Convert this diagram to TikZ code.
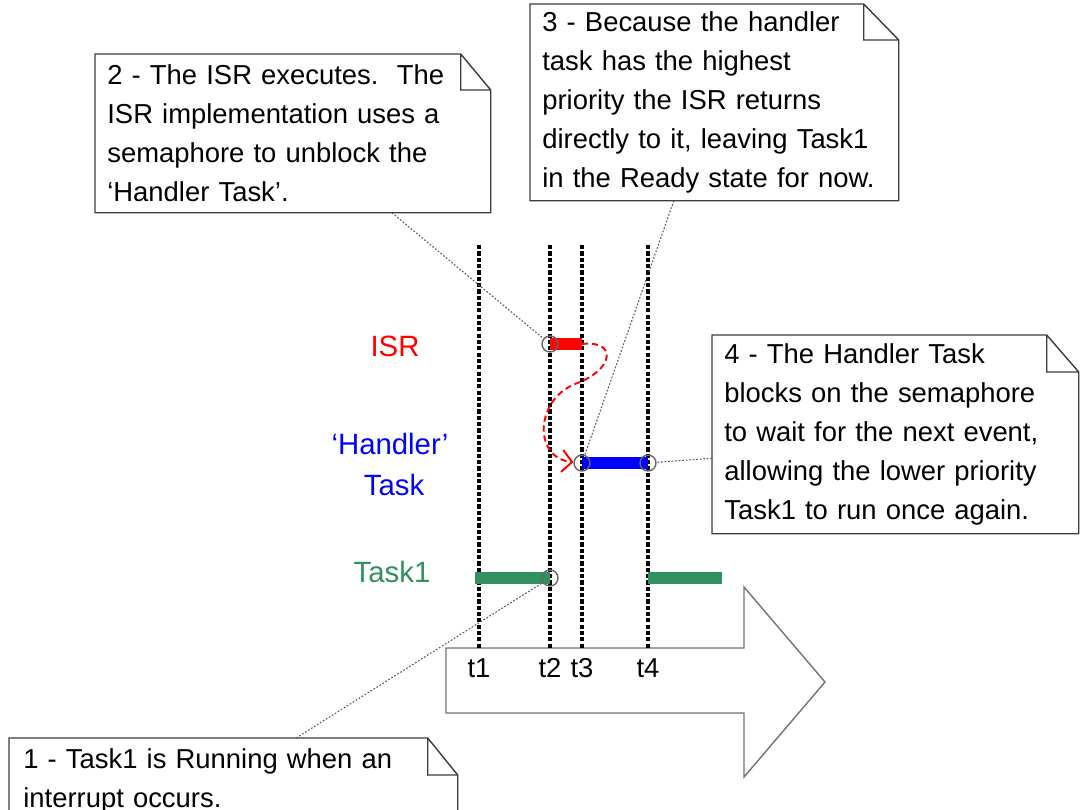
\documentclass[tikz,border=0pt]{standalone}
\usepackage{fontspec}
\setmainfont{Liberation Sans}
\usepackage{tikz}
\usetikzlibrary{arrows.meta,calc}

\definecolor{taskgreen}{RGB}{46,145,95}
\definecolor{notegray}{RGB}{60,60,60}

\tikzset{
  note/.style={anchor=north west, align=left, inner xsep=2.4mm, inner ysep=0pt,
    font=\fontsize{15.6}{22.2}\selectfont},
  notebox/.style={draw=notegray, line width=0.8pt},
  leader/.style={draw=black!65, line width=0.6pt, dash pattern=on 1pt off 1pt},
  timeline/.style={draw=black, line width=2pt, dash pattern=on 2.4pt off 1.2pt},
  axisarrow/.style={draw=black!55, line width=0.8pt, fill=white},
  tlabel/.style={anchor=base, inner sep=0pt, font=\fontsize{15.6}{18}\selectfont},
  rowlabel/.style={anchor=base, inner sep=0pt, font=\fontsize{16.7}{20}\selectfont},
  runbar/.style={line width=7pt, line cap=butt},
  event/.style={circle, draw=black!60, line width=0.8pt, minimum size=3.2mm, inner sep=0pt},
  switch/.style={draw=red, line width=1.1pt, dash pattern=on 3.5pt off 2.2pt,
    -{Straight Barb[length=2mm,width=4.4mm]}}
}

% folded-corner outline round a note node
\newcommand{\dogear}[3]{%
  \draw[notebox] (#1.north west) -- ($(#1.north east)+(-#2,0)$) -- ($(#1.north east)+(0,#3)$)
    -- (#1.south east) -- (#1.south west) -- cycle
    ($(#1.north east)+(-#2,0)$) |- ($(#1.north east)+(0,#3)$);}

\begin{document}
\begin{tikzpicture}[x=0.2mm, y=-0.2mm, >=Stealth]
  \useasboundingbox (0,0) rectangle (1080,809);

  % time axis
  \draw[axisarrow] (446,648) -- (744,648) -- (744,587) -- (825,682) -- (744,777)
    -- (744,713) -- (446,713) -- cycle;

  \foreach \n/\x in {1/479, 2/550, 3/582, 4/648} {
    \draw[timeline] (\x,245) -- (\x,648);
    \node[tlabel] (t\n) at (\x,677) {t\n};
  }

  % rows
  \node[rowlabel, red] (isrlabel) at (395,356) {ISR};
  \node[rowlabel, blue] (hndlabel) at (390,454) {‘Handler’};
  \node[rowlabel, blue] (hndlabelb) at (394,495) {Task};
  \node[rowlabel, taskgreen] (tsklabel) at (392,582) {Task1};

  % running periods
  \draw[runbar, taskgreen] (475,578) -- (550,578);
  \draw[runbar, taskgreen] (648,578) -- (722,578);
  \draw[runbar, red] (550,344) -- (582,344);
  \draw[runbar, blue] (582,463) -- (648,463);

  % events
  \node[event] (ev1) at (550,578) {};
  \node[event] (ev2) at (550,344) {};
  \node[event] (ev3) at (582,463) {};
  \node[event] (ev4) at (648,463) {};
  \coordinate (isrend) at (582,344);

  \draw[switch] (isrend) .. controls (618,340) and (614,370) .. (575,384)
    .. controls (535,400) and (533,458) .. (ev3);

  % notes
  \node[note, minimum width=79mm, text width=74.2mm, minimum height=31.6mm] (n2) at (95,54)
    {2 - The ISR executes.\ \ The\\ISR implementation uses a\\semaphore to unblock the\\‘Handler Task’.};
  \dogear{n2}{30}{36}

  \node[note, minimum width=73.6mm, text width=68.8mm, minimum height=39.2mm] (n3) at (530,4)
    {3 - Because the handler\\task has the highest\\priority the ISR returns\\directly to it, leaving Task1\\in the Ready state for now.};
  \dogear{n3}{35}{36}

  \node[note, minimum width=73.2mm, text width=68.4mm, minimum height=39.6mm] (n4) at (712,335)
    {4 - The Handler Task\\blocks on the semaphore\\to wait for the next event,\\allowing the lower priority\\Task1 to run once again.};
  \dogear{n4}{32}{37}

  \node[note, minimum width=89.6mm, text width=84mm, minimum height=17.2mm, inner xsep=2.8mm] (n1) at (9,738)
    {1 - Task1 is Running when an\\interrupt occurs.};
  \dogear{n1}{30}{37}

  \draw[leader] ($(n2.south west)!0.75!(n2.south east)$) -- (ev2);
  \draw[leader] ($(n3.south west)!0.39!(n3.south east)$) -- (ev3);
  \draw[leader] ($(n4.north west)!0.62!(n4.south west)$) -- (ev4);
  \draw[leader] ($(n1.north west)!0.64!(n1.north east)$) -- (ev1);
\end{tikzpicture}
\end{document}
